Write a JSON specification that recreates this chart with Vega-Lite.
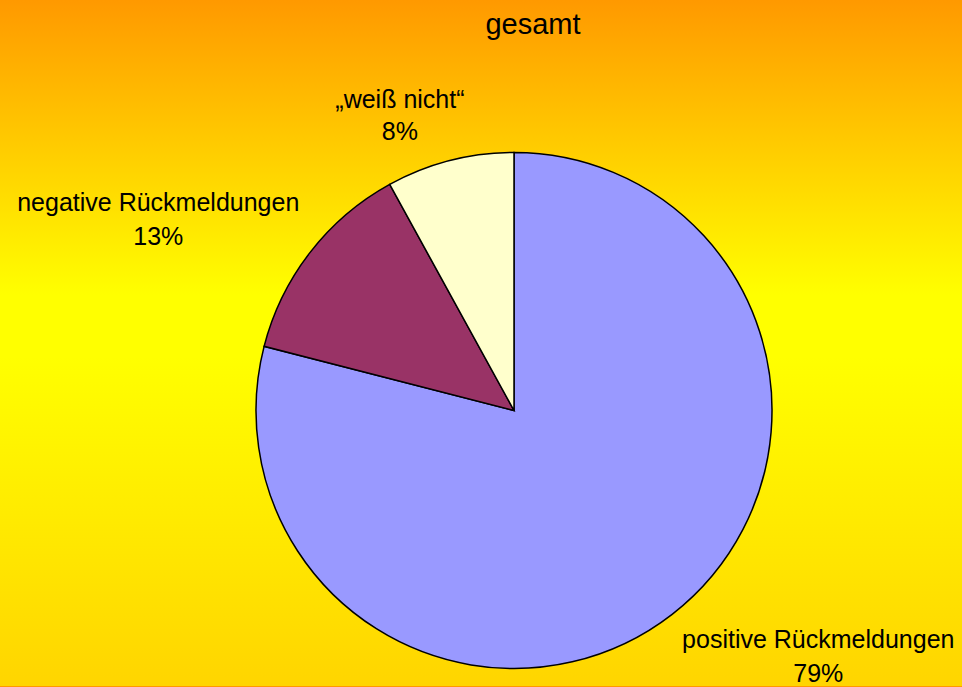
{
  "$schema": "https://vega.github.io/schema/vega-lite/v6.json",
  "width": 962,
  "height": 687,
  "autosize": {"type": "fit", "contains": "padding"},
  "padding": 0,
  "background": "#FF9900",
  "title": {
    "text": "gesamt",
    "anchor": "middle",
    "dx": 52,
    "fontSize": 29,
    "font": "Liberation Sans",
    "fontWeight": "normal",
    "color": "#000000",
    "offset": -40
  },
  "config": {
    "view": {"stroke": null},
    "text": {"font": "Liberation Sans"}
  },
  "data": {
    "values": [
      {"category": "positive Rückmeldungen", "value": 79, "pct": "79%", "order": 1},
      {"category": "negative Rückmeldungen", "value": 13, "pct": "13%", "order": 2},
      {"category": "„weiß  nicht“", "value": 8, "pct": "8%", "order": 3}
    ]
  },
  "transform": [
    {"stack": "value", "groupby": [], "sort": [{"field": "order", "order": "ascending"}], "as": ["v_start", "v_end"]},
    {"calculate": "(datum.v_start + datum.v_end) / 2", "as": "mid"},
    {"calculate": "[datum.category, datum.pct]", "as": "label"}
  ],
  "layer": [
    {
      "transform": [{"filter": "datum.order == 1"}],
      "mark": {
        "type": "rect",
        "color": {
          "gradient": "linear",
          "x1": 0, "y1": 0, "x2": 0, "y2": 1,
          "stops": [
            {"offset": 0, "color": "#FF9900"},
            {"offset": 0.43, "color": "#FFFF00"},
            {"offset": 0.52, "color": "#FFFF00"},
            {"offset": 1, "color": "#FFD500"}
          ]
        },
        "strokeWidth": 0
      },
      "encoding": {}
    },
    {
      "mark": {"type": "arc", "outerRadius": 258, "stroke": "#000000", "strokeWidth": 1.5, "xOffset": 33, "yOffset": 67.5},
      "encoding": {
        "theta": {"field": "v_start", "type": "quantitative", "scale": {"domain": [0, 100], "zero": true, "nice": false}},
        "theta2": {"field": "v_end"},
        "color": {
          "field": "category",
          "type": "nominal",
          "scale": {
            "domain": ["positive Rückmeldungen", "negative Rückmeldungen", "„weiß  nicht“"],
            "range": ["#9999FF", "#993366", "#FFFFCC"]
          },
          "legend": null
        }
      }
    },
    {
      "transform": [{"filter": "datum.order == 1"}],
      "mark": {"type": "text", "radius": 330, "xOffset": 33, "yOffset": 67.5, "dx": 102, "dy": -31, "fontSize": 25, "align": "center", "baseline": "middle", "lineHeight": 34, "color": "#000000"},
      "encoding": {
        "theta": {"field": "mid", "type": "quantitative"},
        "text": {"field": "label"}
      }
    },
    {
      "transform": [{"filter": "datum.order == 2"}],
      "mark": {"type": "text", "radius": 330, "xOffset": 33, "yOffset": 67.5, "dx": -95, "dy": -5, "fontSize": 25, "align": "center", "baseline": "middle", "lineHeight": 34, "color": "#000000"},
      "encoding": {
        "theta": {"field": "mid", "type": "quantitative"},
        "text": {"field": "label"}
      }
    },
    {
      "transform": [{"filter": "datum.order == 3"}],
      "mark": {"type": "text", "radius": 330, "xOffset": 33, "yOffset": 67.5, "dx": -32, "dy": 9, "fontSize": 25, "align": "center", "baseline": "middle", "lineHeight": 32, "color": "#000000"},
      "encoding": {
        "theta": {"field": "mid", "type": "quantitative"},
        "text": {"field": "label"}
      }
    }
  ]
}
